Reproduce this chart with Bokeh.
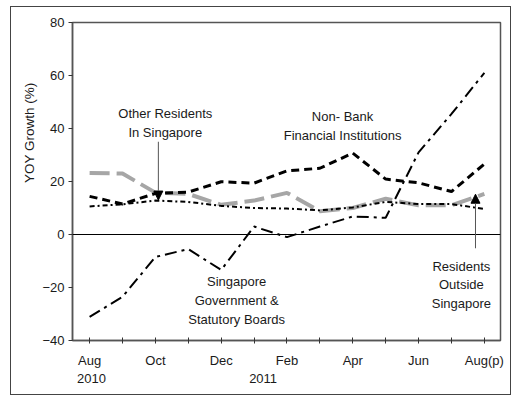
from bokeh.plotting import figure
from bokeh.models import Span, Label, Arrow, NormalHead, FixedTicker, Range1d
from bokeh.embed import file_html
from bokeh.resources import INLINE

# ---- data ----
months = ["Aug", "Sep", "Oct", "Nov", "Dec", "Jan", "Feb", "Mar", "Apr", "May", "Jun", "Jul", "Aug(p)"]
x_idx = list(range(len(months)))
NB = "\u00a0"
tick_labels = {0: "Aug\n" + NB + "2010", 2: "Oct", 4: "Dec", 5: NB + "\n" + NB * 5 + "2011",
               6: "Feb", 8: "Apr", 10: "Jun", 12: "Aug(p)"}

non_bank = [14.4, 11.5, 15.5, 16.0, 19.9, 19.4, 24.0, 25.0, 30.7, 20.9, 19.5, 16.2, 26.6]
res_outside = [23.2, 23.0, 15.8, 15.3, 11.2, 12.8, 15.7, 8.8, 10.0, 13.5, 11.0, 11.0, 15.3]
other_res = [10.6, 11.4, 12.8, 12.3, 10.8, 10.0, 9.8, 9.1, 10.2, 12.3, 11.5, 11.5, 9.6]
gov = [-31.1, -23.5, -8.5, -5.5, -13.4, 3.0, -1.0, 3.0, 6.8, 6.3, 31.0, 45.5, 61.0]

y_ticks = [-40, -20, 0, 20, 40, 60, 80]

FONT = "Liberation Sans"
TXT = "#1a1a1a"

p = figure(width=501, height=389, output_backend="svg", toolbar_location=None,
           x_range=Range1d(-0.52, 12.49), y_range=Range1d(-40, 80),
           min_border_left=61, min_border_right=12, min_border_top=15, min_border_bottom=56)
p.styles = {"border": "1px solid #444", "margin": "6px 0px 0px 10px"}
p.grid.visible = False
p.outline_line_color = "#555"
p.outline_line_width = 1.5
p.background_fill_color = "white"
p.border_fill_color = "white"

# axes
p.xaxis.ticker = FixedTicker(ticks=x_idx)
p.xaxis.major_label_overrides = {i: tick_labels.get(i, "") for i in x_idx}
p.xaxis.major_tick_in = 3
p.xaxis.major_tick_out = 3
p.xaxis.minor_tick_line_color = None
p.xaxis.major_label_standoff = 9
p.yaxis.ticker = FixedTicker(ticks=y_ticks)
p.yaxis.major_tick_in = 0
p.yaxis.major_tick_out = 4
p.yaxis.minor_tick_line_color = None
p.yaxis.major_label_standoff = 4
for ax in (p.xaxis, p.yaxis):
    ax.axis_line_color = "#555"
    ax.axis_line_width = 1.5
    ax.major_tick_line_color = "#333"
    ax.major_label_text_font = FONT
    ax.major_label_text_font_size = "13px"
    ax.major_label_text_color = TXT

# y axis title, shifted toward the top with leading non-breaking spaces
p.yaxis.axis_label = NB * 26 + "YOY Growth (%)"
p.yaxis.axis_label_text_font = FONT
p.yaxis.axis_label_text_font_size = "13.5px"
p.yaxis.axis_label_text_font_style = "normal"
p.yaxis.axis_label_text_color = TXT
p.yaxis.axis_label_standoff = 2

# zero line
p.add_layout(Span(location=0, dimension="width", line_color="black", line_width=1))

# series
p.line(x_idx, res_outside, line_color="#a6a6a6", line_width=4, line_dash="20 7")
p.line(x_idx, other_res, line_color="black", line_width=2, line_dash="5 3 2 3")
p.line(x_idx, gov, line_color="black", line_width=2, line_dash="12 5 3 5")
p.line(x_idx, non_bank, line_color="black", line_width=3, line_dash="8 5")

# annotations
def lab(x, y, t):
    p.add_layout(Label(x=x, y=y, text=t, text_align="center", text_baseline="middle",
                       text_font=FONT, text_font_size="13px", text_color=TXT,
                       text_line_height=1.25))

lab(2.3, 42.2, "Other Residents\nIn Singapore")
lab(7.69, 41.0, "Non- Bank\nFinancial Institutions")
lab(4.47, -24.9, "Singapore\nGovernment &\nStatutory Boards")
lab(11.3, -19.0, "Residents\nOutside\nSingapore")

p.add_layout(Arrow(x_start=2.09, y_start=35, x_end=2.09, y_end=13.0,
                   line_color="#555", line_width=1,
                   end=NormalHead(size=9, fill_color="black", line_color="black")))
p.add_layout(Arrow(x_start=11.73, y_start=-5.2, x_end=11.73, y_end=15.2,
                   line_color="#555", line_width=1,
                   end=NormalHead(size=9, fill_color="black", line_color="black")))

open("out.html", "w").write(file_html(p, INLINE))
